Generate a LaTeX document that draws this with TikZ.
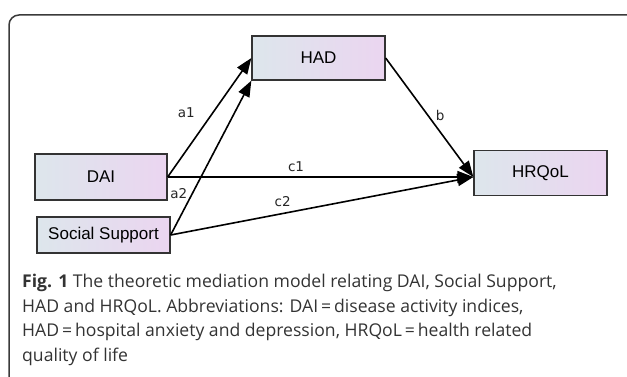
\documentclass[tikz,border=0pt]{standalone}
\usepackage{fontspec}
\setmainfont{Liberation Sans}
\newfontfamily\capfont{Open Sans}
\newfontfamily\lblfont{DejaVu Sans}
\usetikzlibrary{arrows.meta}
\definecolor{boxleft}{HTML}{DDE6EC}
\definecolor{boxright}{HTML}{EBD5F0}
\definecolor{frame}{HTML}{3A3A3A}
\definecolor{captext}{HTML}{333333}
\begin{document}
\begin{tikzpicture}[x=1pt, y=-1pt,
    var/.style={rectangle, draw=black!80, line width=1.3pt, left color=boxleft,
      right color=boxright, inner sep=0pt, font=\fontsize{17}{17}\selectfont},
    path/.style={-{Triangle[length=16pt, width=12pt]}, line width=1.6pt},
    coef/.style={font=\lblfont\fontsize{13.5}{13.5}\selectfont, text=black!85}]
  \useasboundingbox (0,0) rectangle (627,377);
  % frame round the figure
  \draw[frame, line width=1.5pt, rounded corners=10pt] (627,15) -- (9,15) -- (9,377);
  % variables
  \node[var, minimum width=133pt, minimum height=44pt] (had) at (318.5,58) {HAD};
  \node[var, minimum width=132pt, minimum height=46pt] (dai) at (101,177) {DAI};
  \node[var, minimum width=133pt, minimum height=45pt] (hrqol) at (540.5,173) {HRQoL};
  \node[var, minimum width=133pt, minimum height=36pt] (ss) at (103.5,235) {Social Support};
  \coordinate (hin) at (dai.east -| hrqol.west);
  % paths
  \draw[path] (dai.east) -- node[coef, pos=.54, left=14pt] {a1} (had.west);
  \draw[path] (ss.east) -- node[coef, pos=.27, left=1pt] {a2} (had.south west);
  \draw[path] (dai.east) -- node[coef, pos=.42, above=1pt] {c1} (hin);
  \draw[path] (had.east) -- node[coef, pos=.48, right=4pt] {b} (hin);
  \draw[path] (ss.east) -- node[coef, pos=.37, above=3pt] {c2} (hin);
  % caption
  \node[anchor=north west, align=left, text=captext, inner sep=0pt,
    font=\capfont\fontsize{17.6}{24.5}\selectfont] (caption) at (22,274)
    {\textbf{Fig. 1} The theoretic mediation model relating DAI, Social Support,\\
     HAD and HRQoL. Abbreviations: DAI\,=\,disease activity indices,\\
     HAD\,=\,hospital anxiety and depression, HRQoL\,=\,health related\\
     quality of life};
\end{tikzpicture}
\end{document}
